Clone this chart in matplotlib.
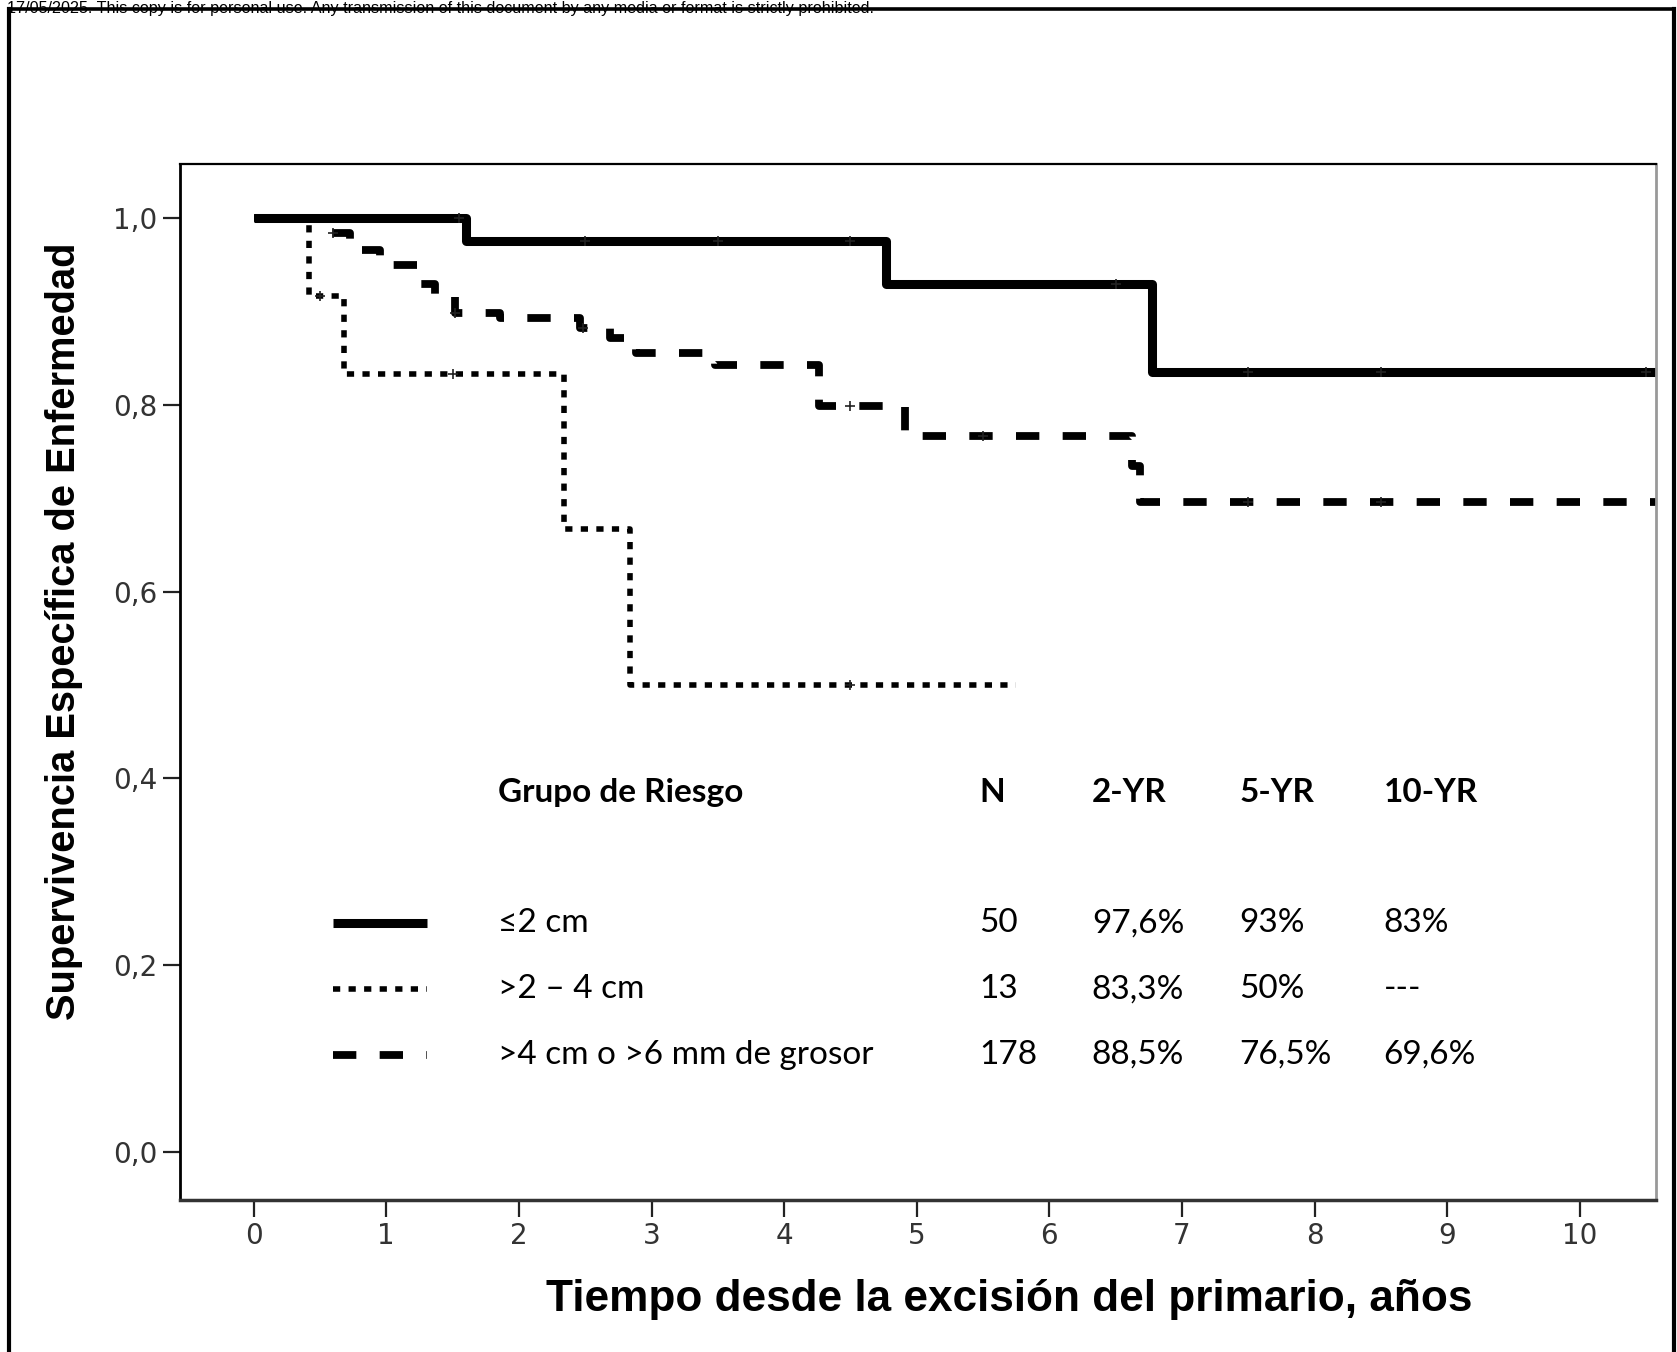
import numpy as np
import matplotlib
matplotlib.use("Agg")
import matplotlib.pyplot as plt
from matplotlib.lines import Line2D

# Kaplan-Meier step curves (time in years, survival)
t_small = [0, 1.6, 4.77, 6.77, 10.57]
s_small = [1.0, 0.976, 0.93, 0.835, 0.835]

t_mid = [0, 0.42, 0.68, 2.34, 2.84, 5.75]
s_mid = [1.0, 0.917, 0.833, 0.667, 0.5, 0.5]

t_big = [0, 0.5, 0.73, 0.95, 1.26, 1.37, 1.52, 1.86, 2.46, 2.69, 2.88, 3.48,
         4.26, 4.91, 6.62, 6.68, 10.57]
s_big = [1.0, 0.984, 0.966, 0.950, 0.930, 0.918, 0.899, 0.893, 0.882, 0.872,
         0.856, 0.843, 0.799, 0.767, 0.735, 0.696, 0.696]

# censored observations (small + marks)
cens_small = [1.55, 2.5, 3.5, 4.5, 6.5, 7.5, 8.5, 10.5]
cens_mid = [0.5, 1.5, 4.5]
cens_big = [0.6, 1.52, 2.48, 4.5, 5.5, 7.5, 8.5]

# table
groups = ["\u22642 cm", ">2 \u2013 4 cm", ">4 cm o >6 mm de grosor"]
n_pat = ["50", "13", "178"]
yr2 = ["97,6%", "83,3%", "88,5%"]
yr5 = ["93%", "50%", "76,5%"]
yr10 = ["83%", "---", "69,6%"]
headers = ["Grupo de Riesgo", "N", "2-YR", "5-YR", "10-YR"]

xticks = list(range(0, 11))
yticks = [0.0, 0.2, 0.4, 0.6, 0.8, 1.0]

fig = plt.figure(figsize=(16.77, 13.52), dpi=100)
ax = fig.add_axes([0.1072, 0.1124, 0.88, 0.7666])

styles = [
    dict(lw=6.5, ls="-"),
    dict(lw=4.0, ls=(0, (1.3, 1.5))),
    dict(lw=5.6, ls=(0, (3.0, 3.0))),
]

def step_at(tt, ss, x):
    idx = np.searchsorted(tt, x, side="right") - 1
    return np.array(ss)[idx]

curves = [(t_small, s_small, cens_small), (t_mid, s_mid, cens_mid), (t_big, s_big, cens_big)]
for (tt, ss, cc), st in zip(curves, styles):
    ax.step(tt, ss, where="post", color="black", solid_capstyle="butt",
            dash_capstyle="butt", **st)
    ax.plot(cc, step_at(tt, ss, cc), ls="none", marker="+", ms=7, mew=1.2,
            color="#222222")

ax.set_xlim(-0.557, 10.57)
ax.set_ylim(-0.0516, 1.0585)
ax.set_xticks(xticks)
ax.set_yticks(yticks)
ax.set_yticklabels([f"{v:.1f}".replace(".", ",") for v in yticks])
ax.tick_params(axis="both", direction="out", length=12, width=1.6, color="#222222",
               labelsize=20, labelcolor="#333333", pad=4)
for lab in ax.get_xticklabels() + ax.get_yticklabels():
    lab.set_family(["Liberation Sans Narrow", "DejaVu Sans"])

ax.spines["left"].set_linewidth(2)
ax.spines["top"].set_linewidth(1.6)
ax.spines["bottom"].set_linewidth(2.5)
ax.spines["bottom"].set_color("#333333")
ax.spines["right"].set_color("#999999")
ax.spines["right"].set_linewidth(2)

# risk table inside the plot
tfont = ["Lato", "DejaVu Sans"]
col_x = [1.84, 5.47, 6.32, 7.43, 8.52]
head_y = 0.385
row_y = [0.245, 0.174, 0.104]
for x, h in zip(col_x, headers):
    ax.text(x, head_y, h, fontsize=24, fontweight="bold", family=tfont, va="center")
for i, y in enumerate(row_y):
    vals = [groups[i], n_pat[i], yr2[i], yr5[i], yr10[i]]
    for x, v in zip(col_x, vals):
        ax.text(x, y, v, fontsize=24, family=tfont, va="center")
    ax.add_line(Line2D([0.60, 1.31], [y, y], color="black", solid_capstyle="butt",
                       dash_capstyle="butt", **styles[i]))

fig.text(0.0380, 0.533, "Supervivencia Espec\u00edfica de Enfermedad", rotation=90,
         fontsize=28.7, fontweight="bold", family="Liberation Sans", ha="center", va="center")
fig.text(0.6017, 0.039, "Tiempo desde la excisi\u00f3n del primario, a\u00f1os",
         fontsize=31.8, fontweight="bold", family="Liberation Sans", ha="center", va="center")

# page border and copyright stamp
fig.text(0.004, 0.9905, "17/05/2025. This copy is for personal use. Any transmission of this document by any media or format is strictly prohibited.",
         fontsize=11.6, family="Liberation Sans", ha="left", va="baseline")
fig.add_artist(Line2D([0.0053, 0.998], [0.9933, 0.9933], color="black", lw=2.6))
fig.add_artist(Line2D([0.0055, 0.0055], [0.0, 0.9933], color="black", lw=3))
fig.add_artist(Line2D([0.9985, 0.9985], [0.0, 0.9933], color="black", lw=3))

fig.savefig("out.png", dpi=100)
